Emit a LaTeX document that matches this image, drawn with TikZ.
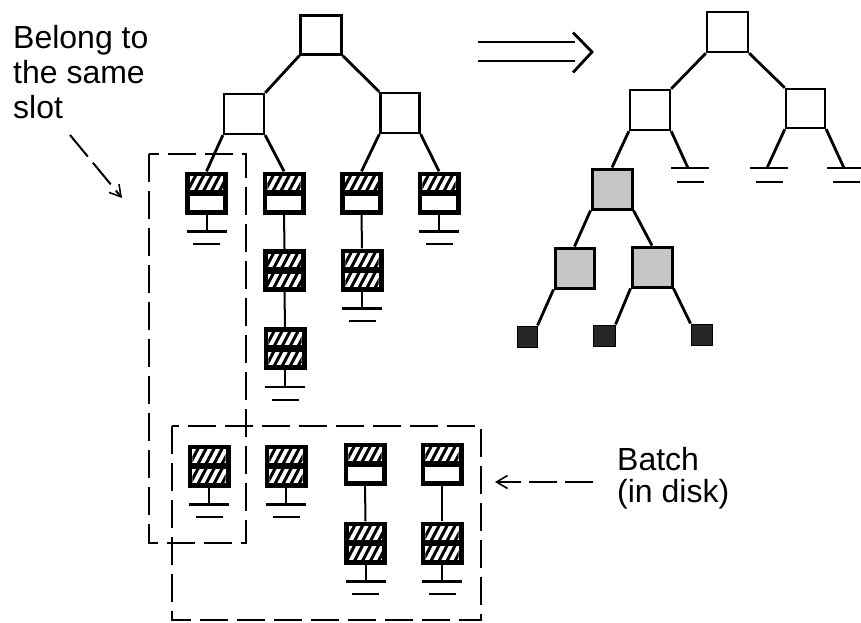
\documentclass[tikz,border=0pt]{standalone}
\usepackage{fontspec}
\setmainfont{Liberation Sans}
\usetikzlibrary{calc,arrows.meta}
\newcommand{\compH}[2]{%
  \fill[white] (#1) rectangle (#2);
  \begin{scope}
    \clip (#1) rectangle (#2);
    \foreach \k in {-2,...,5}{\draw[hatchline] ($(#1)+(\k*8-3,16)$) -- ++(10,-19);}
  \end{scope}}
\newcommand{\compW}[2]{\fill[white] (#1) rectangle (#2);}
\newcommand{\bucket}[3]{%
  \coordinate (#1-a) at ($(#1.north west)+(5,5)$);
  \coordinate (#1-b) at ($(#1.north east)+(-5,18.5)$);
  \coordinate (#1-c) at ($(#1.south west)+(5,-18.5)$);
  \coordinate (#1-d) at ($(#1.south east)+(-5,-5)$);
  \csname comp#2\endcsname{#1-a}{#1-b}
  \csname comp#3\endcsname{#1-c}{#1-d}}
\newcommand{\earth}[1]{%
  \coordinate (#1-g) at ($(#1.south)+(0,17)$);
  \draw[stem] (#1.south) -- (#1-g);
  \draw[gline] ($(#1-g)+(-20,0)$) -- ($(#1-g)+(20,0)$);
  \draw[gline2] ($(#1-g)+(-13.5,12.5)$) -- ($(#1-g)+(13.5,12.5)$);}
\newcommand{\earthlines}[1]{%
  \draw[gline] ($(#1)+(-17,0)$) -- ($(#1)+(21,0)$);
  \draw[gline2] ($(#1)+(-11,14)$) -- ($(#1)+(16,14)$);}
\begin{document}
\begin{tikzpicture}[x=1pt,y=-1pt,
  sq/.style={draw=black, line width=2.3pt, fill=white, minimum width=40pt, minimum height=40pt, inner sep=0pt},
  graysq/.style={sq, fill=gray!45, line width=3pt},
  blk/.style={draw=black, fill=black!85, line width=1pt, minimum width=20pt, minimum height=21pt, inner sep=0pt},
  bkt/.style={fill=black, minimum width=43pt, minimum height=43pt, inner sep=0pt},
  edge/.style={line width=2.8pt},
  stem/.style={line width=2pt},
  gline/.style={line width=2.5pt},
  gline2/.style={line width=2pt},
  hatchline/.style={line width=3pt},
  dashbox/.style={line width=2pt, dash pattern=on 28pt off 9pt},
  darrow/.style={line width=2pt, dash pattern=on 28pt off 8pt, -{Straight Barb[length=11pt,width=13pt,line width=1.6pt]}},
  lbl/.style={font=\fontsize{32}{35}\selectfont, align=left, inner sep=0pt},
  lbltwo/.style={font=\fontsize{32}{32}\selectfont, align=left, inner sep=0pt}
]
\useasboundingbox (0,0) rectangle (861,623);

% dashed regions
\coordinate (slotTL) at (149,154);
\coordinate (slotBR) at (246,543);
\coordinate (batchTL) at (172,426);
\coordinate (batchBR) at (481,620);
\draw[dashbox] (slotTL) rectangle (slotBR);
\draw[dashbox] (batchTL) rectangle (batchBR);

% left tree
\node[sq, minimum width=41pt, minimum height=39pt] (R) at (321,35) {};
\node[sq] (A) at (244,114) {};
\node[sq, minimum width=39pt] (B) at (400,113) {};

\node[bkt] (L1) at (206.5,193) {};
\node[bkt] (L2) at (284,193) {};
\node[bkt] (L3) at (361.5,193) {};
\node[bkt] (L4) at (439,193) {};
\node[bkt] (L2b) at (284.5,270.5) {};
\node[bkt] (L2c) at (285,348.5) {};
\node[bkt] (L3b) at (362,270) {};

\node[bkt] (M1) at (209,466) {};
\node[bkt] (M2) at (286,466) {};
\node[bkt] (M3) at (365,464) {};
\node[bkt] (M3b) at (365.5,543) {};
\node[bkt] (M4) at (442,464) {};
\node[bkt] (M4b) at (442,543) {};

\bucket{L1}{H}{W}
\bucket{L2}{H}{W}
\bucket{L3}{H}{W}
\bucket{L4}{H}{W}
\bucket{L2b}{H}{H}
\bucket{L2c}{H}{H}
\bucket{L3b}{H}{H}
\bucket{M1}{H}{H}
\bucket{M2}{H}{H}
\bucket{M3}{H}{W}
\bucket{M3b}{H}{H}
\bucket{M4}{H}{W}
\bucket{M4b}{H}{H}

\draw[edge] (R.south west) -- (A.north east);
\draw[edge] (R.south east) -- (B.north west);
\draw[edge] (A.south west) -- (L1.north);
\draw[edge] (A.south east) -- (L2.north);
\draw[edge] (B.south west) -- (L3.north);
\draw[edge] (B.south east) -- (L4.north);
\draw[stem] (L2.south) -- (L2b.north);
\draw[stem] (L2b.south) -- (L2c.north);
\draw[stem] (L3.south) -- (L3b.north);
\draw[stem] (M3.south) -- (M3b.north);
\draw[stem] (M4.south) -- (M4b.north);

\earth{L1}
\earth{L4}
\earth{L2c}
\earth{L3b}
\earth{M1}
\earth{M2}
\earth{M3b}
\earth{M4b}

% double arrow
\coordinate (dblS) at (478,52);
\coordinate (dblE) at (592,52);
\draw[stem] ($(dblS)+(0,-9.5)$) -- ($(dblE)+(-17,-9.5)$);
\draw[stem] ($(dblS)+(0,9.5)$) -- ($(dblE)+(-17,9.5)$);
\draw[edge] ($(dblE)+(-19,-19.5)$) -- (dblE) -- ($(dblE)+(-19,20.5)$);

% right tree
\node[sq, minimum width=41pt] (RR) at (727.5,32) {};
\node[sq] (RA) at (650,110) {};
\node[sq, minimum width=39pt, minimum height=39pt] (RB) at (805.5,108.5) {};
\node[graysq] (G) at (612,189) {};
\node[graysq, minimum width=39pt] (GL) at (574.5,268) {};
\node[graysq] (GR) at (652,267) {};
\node[blk] (K1) at (527,336.5) {};
\node[blk, minimum width=22pt] (K2) at (604,335.5) {};
\node[blk, minimum width=21pt] (K3) at (701.5,334.5) {};
\coordinate (gRA) at (688,168);
\coordinate (gRB1) at (767,168);
\coordinate (gRB2) at (844,168);

\draw[edge] (RR.south west) -- (RA.north east);
\draw[edge] (RR.south east) -- (RB.north west);
\draw[edge] (RA.south west) -- (G.north);
\draw[edge] (RA.south east) -- (gRA);
\draw[edge] (RB.south west) -- (gRB1);
\draw[edge] (RB.south east) -- (gRB2);
\draw[edge] (G.south west) -- (GL.north);
\draw[edge] (G.south east) -- (GR.north);
\draw[edge] (GL.south west) -- (K1.north east);
\draw[edge] (GR.south west) -- (K2.north east);
\draw[edge] (GR.south east) -- (K3.north west);
\earthlines{gRA}
\earthlines{gRB1}
\earthlines{gRB2}

% labels
\node[lbl, anchor=north west] (slotlbl) at (13,25) {Belong to\\the same\\slot};
\coordinate (slotA) at (70,135);
\coordinate (slotT) at (122,198);
\draw[darrow] (slotA) -- (slotT);
\node[lbltwo, anchor=north west] (batchlbl) at (617,447) {Batch\\(in disk)};
\coordinate (batchA) at (593,482);
\coordinate (batchT) at (495,482);
\draw[darrow] (batchA) -- (batchT);
\end{tikzpicture}
\end{document}
